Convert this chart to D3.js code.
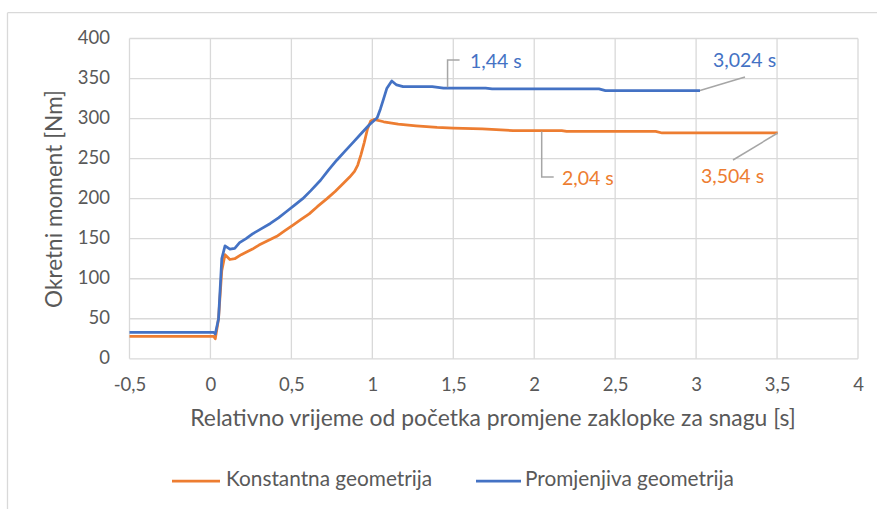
<!DOCTYPE html>
<html><head><meta charset="utf-8">
<script src="https://cdn.jsdelivr.net/npm/d3@7"></script>
<style>
html,body{margin:0;padding:0;background:#fff;}
text{font-family:Lato,"Open Sans",sans-serif;}
</style></head>
<body>
<svg id="c" width="878" height="509"></svg>
<script>
// ---- data ----
const timeKonst = [-0.5,0.02,0.03,0.05,0.07,0.09,0.12,0.15,0.19,0.22,0.26,0.30,0.35,0.41,0.46,0.51,0.56,0.61,0.66,0.72,0.77,0.82,0.86,0.89,0.91,0.93,0.95,0.97,0.99,1.01,1.07,1.16,1.27,1.40,1.50,1.68,1.87,2.17,2.20,2.75,2.79,3.504];
const torqueKonst = [28,28,25,50,110,130,124,125,130,133,137,142,147,153,160,167,174,181,190,200,209,219,227,234,242,255,270,287,297,299,296,293,291,289,288,287,285,285,284,284,282,282];
const timePromj = [-0.5,0.02,0.03,0.05,0.07,0.09,0.12,0.15,0.18,0.22,0.26,0.31,0.37,0.42,0.47,0.52,0.57,0.62,0.68,0.73,0.78,0.83,0.88,0.93,0.98,1.03,1.05,1.07,1.09,1.12,1.15,1.19,1.37,1.44,1.70,1.74,2.40,2.44,3.024];
const torquePromj = [33,33,31,50,125,141,137,138,145,150,156,162,169,176,184,192,200,210,223,236,248,259,270,281,292,301,312,325,338,347,342,340,340,338,338,337,337,335,335];
const seriesNames = ["Konstantna geometrija","Promjenjiva geometrija"];
const xTicks = [-0.5,0,0.5,1,1.5,2,2.5,3,3.5,4];
const yTicks = [0,50,100,150,200,250,300,350,400];
const annTimes = [1.44, 2.04, 3.024, 3.504];
const annSeries = [1, 0, 1, 0];
const annLabels = ["1,44 s","2,04 s","3,024 s","3,504 s"];
const xTitle = "Relativno vrijeme od početka promjene zaklopke za snagu [s]";
const yTitle = "Okretni moment [Nm]";

// ---- drawing ----
const colors = ["#ED7D31","#4472C4"];
const svg = d3.select("#c");
const L = 129.5, R = 858, T = 38.5, B = 358.8;
const x = d3.scaleLinear().domain([-0.5,4]).range([L,R]);
const y = d3.scaleLinear().domain([0,400]).range([B,T]);

// outer frame (cropped)
svg.append("line").attr("x1",7.5).attr("x2",877).attr("y1",12.7).attr("y2",12.7).attr("stroke","#D9D9D9").attr("stroke-width",1.3);
svg.append("line").attr("x1",7.5).attr("x2",7.5).attr("y1",12.7).attr("y2",509).attr("stroke","#D9D9D9").attr("stroke-width",1.3);

const grid = svg.append("g");
grid.selectAll(".gx").data(xTicks).join("line")
  .attr("x1",d=>x(d)).attr("x2",d=>x(d)).attr("y1",T).attr("y2",B)
  .attr("stroke","#D9D9D9").attr("stroke-width",1.3);
grid.selectAll(".gy").data(yTicks).join("line")
  .attr("x1",L).attr("x2",R).attr("y1",d=>y(d)).attr("y2",d=>y(d))
  .attr("stroke","#D9D9D9").attr("stroke-width",1.3);

const fmt = d => String(d).replace(".",",");
const xAxis = d3.axisBottom(x).tickValues(xTicks).tickFormat(fmt).tickSize(0).tickPadding(0);
const gx = svg.append("g").attr("transform",`translate(0,${B})`).call(xAxis);
gx.select(".domain").remove();
gx.selectAll("text").attr("dy",null).attr("y",28).attr("dominant-baseline","middle")
  .attr("fill","#595959").style("font-size","18.5px").style("font-family","Lato");
const yAxis = d3.axisLeft(y).tickValues(yTicks).tickSize(0).tickPadding(0);
const gy = svg.append("g").attr("transform",`translate(110,0)`).call(yAxis);
gy.select(".domain").remove();
gy.selectAll("text").attr("dy",null).attr("x",0).attr("dominant-baseline","middle")
  .attr("fill","#595959").style("font-size","18.5px").style("font-family","Lato");

svg.append("text").attr("x",493).attr("y",420).attr("text-anchor","middle").attr("dominant-baseline","middle")
  .attr("fill","#595959").style("font-size","22.9px").text(xTitle);
svg.append("text").attr("transform","translate(56,199) rotate(-90)").attr("text-anchor","middle").attr("dominant-baseline","middle")
  .attr("fill","#595959").style("font-size","22.6px").text(yTitle);

const seriesData = [d3.zip(timeKonst,torqueKonst), d3.zip(timePromj,torquePromj)];
const line = d3.line().x(d=>x(d[0])).y(d=>y(d[1]));
seriesData.forEach((s,i)=>{
  svg.append("path").datum(s).attr("d",line).attr("fill","none")
    .attr("stroke",colors[i]).attr("stroke-width",2.75).attr("stroke-linejoin","round");
});

// annotations
function valAt(si,t){
  const s = seriesData[si];
  for (let k=1;k<s.length;k++){ if (t<=s[k][0]){ const a=s[k-1],b=s[k]; return a[1]+(b[1]-a[1])*(t-a[0])/(b[0]-a[0]); } }
  return s[s.length-1][1];
}
const annLayout = [
  {path:(px,py)=>`M${px+4},${py-1}L${px+4},${60}L${px+16},${60}`, tx:470, ty:63},
  {path:(px,py)=>`M${px+1},${py+1}L${px+1},${177}L${px+13},${177}`, tx:562, ty:180},
  {path:(px,py)=>`M${px},${py}L${745},${77}`, tx:713, ty:62},
  {path:(px,py)=>`M${px},${py}L${733},${160}`, tx:701, ty:178}
];
annTimes.forEach((t,i)=>{
  const px = x(t), py = y(valAt(annSeries[i],t));
  svg.append("path").attr("d",annLayout[i].path(px,py)).attr("fill","none").attr("stroke","#A6A6A6").attr("stroke-width",1.5);
  svg.append("text").attr("x",annLayout[i].tx).attr("y",annLayout[i].ty).attr("dominant-baseline","middle")
    .attr("fill",colors[annSeries[i]]).style("font-size","19.5px").text(annLabels[i]);
});

// legend
const lg = [{x1:172,x2:220,tx:226},{x1:476,x2:521,tx:525}];
seriesNames.forEach((n,i)=>{
  svg.append("line").attr("x1",lg[i].x1).attr("x2",lg[i].x2).attr("y1",481).attr("y2",481).attr("stroke",colors[i]).attr("stroke-width",2.75);
  svg.append("text").attr("x",lg[i].tx).attr("y",481).attr("dominant-baseline","middle").attr("fill","#595959").style("font-size","20.8px").text(n);
});
</script>
</body></html>
